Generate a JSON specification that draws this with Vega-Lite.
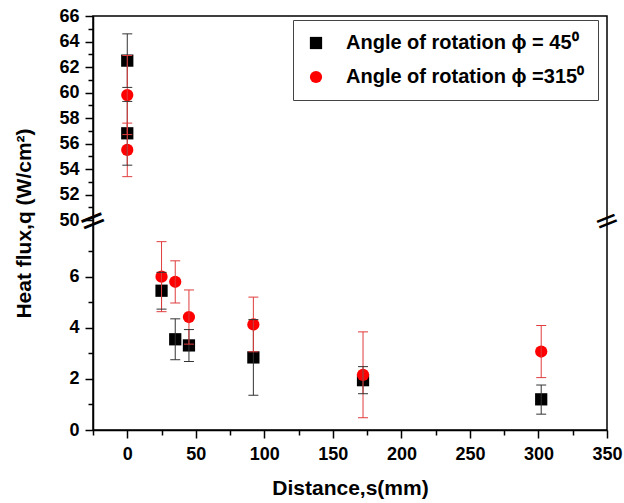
{
  "$schema": "https://vega.github.io/schema/vega-lite/v6.json",
  "width": 514,
  "height": 414,
  "autosize": {"type": "none"},
  "padding": {"left": 93, "top": 16, "right": 17, "bottom": 73},
  "background": "white",
  "config": {
    "font": "Liberation Sans",
    "view": {"stroke": "#000", "strokeWidth": 1.5},
    "axis": {
      "grid": false,
      "domainColor": "#000",
      "domainWidth": 1.5,
      "tickColor": "#000",
      "tickWidth": 1.5,
      "labelFont": "Liberation Sans",
      "labelFontWeight": "bold",
      "labelFontSize": 18,
      "labelColor": "#000",
      "titleFont": "Liberation Sans",
      "titleFontWeight": "bold",
      "titleFontSize": 21,
      "titleColor": "#000",
      "labelFlush": false,
      "labelOverlap": false
    },
    "legend": {
      "labelFont": "Liberation Sans",
      "labelFontWeight": "bold",
      "labelFontSize": 20,
      "labelColor": "#000",
      "labelLimit": 400,
      "strokeColor": "#444",
      "fillColor": "white",
      "padding": 13,
      "rowPadding": 14,
      "labelOffset": 20,
      "symbolSize": 150,
      "symbolStrokeWidth": 0
    }
  },
  "data": {
    "values": [
      {"series": "Angle of rotation ϕ = 45⁰", "s": 0, "q": 62.5, "lo": 60.4, "hi": 64.6},
      {"series": "Angle of rotation ϕ = 45⁰", "s": 0, "q": 56.8, "lo": 54.3, "hi": 59.3},
      {"series": "Angle of rotation ϕ = 45⁰", "s": 25, "q": 5.45, "lo": 4.73, "hi": 6.17},
      {"series": "Angle of rotation ϕ = 45⁰", "s": 35, "q": 3.55, "lo": 2.75, "hi": 4.35},
      {"series": "Angle of rotation ϕ = 45⁰", "s": 45, "q": 3.31, "lo": 2.68, "hi": 3.93},
      {"series": "Angle of rotation ϕ = 45⁰", "s": 92, "q": 2.84, "lo": 1.36, "hi": 4.32},
      {"series": "Angle of rotation ϕ = 45⁰", "s": 172, "q": 1.95, "lo": 1.42, "hi": 2.48},
      {"series": "Angle of rotation ϕ = 45⁰", "s": 302, "q": 1.2, "lo": 0.62, "hi": 1.76},
      {"series": "Angle of rotation ϕ =315⁰", "s": 0, "q": 59.8, "lo": 56.7, "hi": 62.9},
      {"series": "Angle of rotation ϕ =315⁰", "s": 0, "q": 55.5, "lo": 53.4, "hi": 57.6},
      {"series": "Angle of rotation ϕ =315⁰", "s": 25, "q": 6.0, "lo": 4.63, "hi": 7.37},
      {"series": "Angle of rotation ϕ =315⁰", "s": 35, "q": 5.8, "lo": 4.97, "hi": 6.62},
      {"series": "Angle of rotation ϕ =315⁰", "s": 45, "q": 4.42, "lo": 3.36, "hi": 5.48},
      {"series": "Angle of rotation ϕ =315⁰", "s": 92, "q": 4.13, "lo": 3.06, "hi": 5.2},
      {"series": "Angle of rotation ϕ =315⁰", "s": 172, "q": 2.16, "lo": 0.48, "hi": 3.84},
      {"series": "Angle of rotation ϕ =315⁰", "s": 302, "q": 3.07, "lo": 2.05, "hi": 4.09}
    ]
  },
  "layer": [
    {
      "mark": {"type": "point", "filled": true, "size": 150, "opacity": 1},
      "encoding": {
        "x": {
          "field": "s", "type": "quantitative",
          "scale": {"domain": [-25, 350], "nice": false, "zero": false},
          "axis": {
            "title": "Distance,s(mm)",
            "values": [-25, 0, 25, 50, 75, 100, 125, 150, 175, 200, 225, 250, 275, 300, 325, 350],
            "tickCount": 200,
            "format": "d",
            "labelExpr": "datum.value % 50 === 0 ? datum.label : ''",
            "tickSize": {"condition": {"test": "datum.value % 50 === 0", "value": 8}, "value": 5},
            "labelOverlap": false,
            "labelPadding": 7,
            "titlePadding": 14
          }
        },
        "y": {
          "field": "q", "type": "quantitative",
          "scale": {"domain": [0, 8.1, 50, 66], "range": [414, 207, 204, 0], "nice": false, "zero": false},
          "axis": {
            "title": "Heat flux,q (W/cm²)",
            "values": [0, 1, 2, 3, 4, 5, 6, 7, 50, 51, 52, 53, 54, 55, 56, 57, 58, 59, 60, 61, 62, 63, 64, 65, 66],
            "tickCount": 200,
            "format": "d",
            "labelExpr": "datum.value % 2 === 0 ? datum.label : ''",
            "tickSize": {"condition": {"test": "datum.value % 2 === 0", "value": 8}, "value": 5},
            "labelOverlap": false,
            "labelPadding": 6,
            "titlePadding": 24
          }
        },
        "color": {
          "field": "series", "type": "nominal",
          "scale": {"domain": ["Angle of rotation ϕ = 45⁰", "Angle of rotation ϕ =315⁰"], "range": ["#000000", "#ff0000"]},
          "legend": {"title": null, "orient": "none", "legendX": 200, "legendY": 4}
        },
        "shape": {
          "field": "series", "type": "nominal",
          "scale": {"domain": ["Angle of rotation ϕ = 45⁰", "Angle of rotation ϕ =315⁰"], "range": ["square", "circle"]},
          "legend": {"title": null, "orient": "none", "legendX": 200, "legendY": 4}
        }
      }
    },
    {
      "mark": {"type": "rule", "strokeWidth": 1},
      "encoding": {
        "x": {"field": "s", "type": "quantitative"},
        "y": {"field": "lo", "type": "quantitative"},
        "y2": {"field": "hi"},
        "stroke": {
          "field": "series", "type": "nominal",
          "scale": {"domain": ["Angle of rotation ϕ = 45⁰", "Angle of rotation ϕ =315⁰"], "range": ["#333333", "#e03c3c"]},
          "legend": null
        }
      }
    },
    {
      "mark": {"type": "tick", "orient": "horizontal", "size": 10, "thickness": 1, "opacity": 1},
      "encoding": {
        "x": {"field": "s", "type": "quantitative"},
        "y": {"field": "lo", "type": "quantitative"},
        "fill": {
          "field": "series", "type": "nominal",
          "scale": {"domain": ["Angle of rotation ϕ = 45⁰", "Angle of rotation ϕ =315⁰"], "range": ["#333333", "#e03c3c"]},
          "legend": null
        }
      }
    },
    {
      "mark": {"type": "tick", "orient": "horizontal", "size": 10, "thickness": 1, "opacity": 1},
      "encoding": {
        "x": {"field": "s", "type": "quantitative"},
        "y": {"field": "hi", "type": "quantitative"},
        "fill": {
          "field": "series", "type": "nominal",
          "legend": null
        }
      }
    },
    {
      "data": {"values": [{"label": "break"}]},
      "mark": {"type": "text", "text": "=", "fontSize": 34, "font": "DejaVu Sans", "angle": -22, "align": "center", "baseline": "middle", "color": "#000"},
      "encoding": {
        "x": {"datum": -25, "type": "quantitative"},
        "y": {"datum": 29, "type": "quantitative"}
      }
    },
    {
      "data": {"values": [{"label": "break"}]},
      "mark": {"type": "text", "text": "=", "fontSize": 30, "font": "DejaVu Sans", "angle": -22, "align": "center", "baseline": "middle", "color": "#000"},
      "encoding": {
        "x": {"datum": 350, "type": "quantitative"},
        "y": {"datum": 29, "type": "quantitative"}
      }
    }
  ]
}
